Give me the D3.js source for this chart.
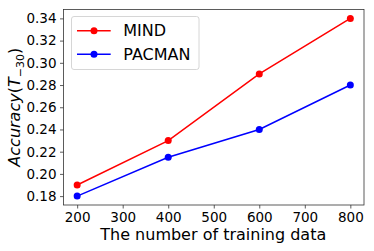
<!DOCTYPE html>
<html><head><meta charset="utf-8">
<script src="https://cdn.jsdelivr.net/npm/d3@7"></script>
<style>body{margin:0;background:#fff}svg{display:block}text{font-family:"DejaVu Sans",sans-serif}</style>
</head><body><svg id="c" width="374" height="251"></svg>
<script>
const xValues = [200, 400, 600, 800];
const mindValues = [0.19, 0.23, 0.29, 0.34];
const pacmanValues = [0.18, 0.215, 0.24, 0.28];
const seriesNames = ["MIND", "PACMAN"];
const seriesColors = ["#ff0000", "#0000ff"];
const xTicks = [200, 300, 400, 500, 600, 700, 800];
const yTicks = [0.18, 0.20, 0.22, 0.24, 0.26, 0.28, 0.30, 0.32, 0.34];

const svg = d3.select("#c");
const L = 63.5, R = 364, T = 9.5, B = 205;
const x = d3.scaleLinear().domain([170, 830]).range([L, R]);
const y = d3.scaleLinear().domain([0.172, 0.348]).range([B, T]);

const xa = svg.append("g").attr("transform", `translate(0,${B})`)
  .call(d3.axisBottom(x).tickValues(xTicks).tickSize(3.5).tickPadding(3.5).tickFormat(d3.format("d")));
const ya = svg.append("g").attr("transform", `translate(${L},0)`)
  .call(d3.axisLeft(y).tickValues(yTicks).tickSize(3.5).tickPadding(3.5).tickFormat(d3.format(".2f")));
[xa, ya].forEach(a => {
  a.select(".domain").remove();
  a.selectAll("line").attr("stroke", "#333").attr("stroke-width", 0.8);
  a.selectAll("text").attr("fill", "#000").style("font-size", "13.5px").style("font-family", "DejaVu Sans");
});
svg.append("rect").attr("x", L).attr("y", T).attr("width", R - L).attr("height", B - T)
  .attr("fill", "none").attr("stroke", "#333").attr("stroke-width", 0.8);

const data = [mindValues, pacmanValues];
const line = d3.line().x((d, i) => x(xValues[i])).y(d => y(d));
data.forEach((vals, k) => {
  svg.append("path").datum(vals).attr("d", line).attr("fill", "none")
    .attr("stroke", seriesColors[k]).attr("stroke-width", 1.5);
  svg.selectAll(null).data(vals).enter().append("circle")
    .attr("cx", (d, i) => x(xValues[i])).attr("cy", d => y(d)).attr("r", 3.5)
    .attr("fill", seriesColors[k]);
});

// legend
const lg = svg.append("g");
lg.append("rect").attr("x", 71.5).attr("y", 16.5).attr("width", 127.5).attr("height", 53)
  .attr("rx", 2.5).attr("fill", "#fff").attr("fill-opacity", 0.8).attr("stroke", "#ccc").attr("stroke-width", 0.8);
seriesNames.forEach((n, k) => {
  const yy = 30.7 + k * 23.5;
  lg.append("line").attr("x1", 77).attr("x2", 110.7).attr("y1", yy).attr("y2", yy)
    .attr("stroke", seriesColors[k]).attr("stroke-width", 1.5);
  lg.append("circle").attr("cx", 94).attr("cy", yy).attr("r", 3.5).attr("fill", seriesColors[k]);
  lg.append("text").attr("x", 123.3).attr("y", yy).attr("dy", "0.36em").style("font-size", "16px").text(n);
});

// axis titles
svg.append("text").attr("x", (L + R) / 2 - 0.5).attr("y", 240).attr("text-anchor", "middle")
  .style("font-size", "16px").text("The number of training data");
const yl = svg.append("text").attr("transform", `translate(20,${(T + B) / 2}) rotate(-90)`)
  .attr("text-anchor", "middle").style("font-size", "16px");
yl.append("tspan").style("font-style", "italic").text("Accuracy");
yl.append("tspan").text("(");
yl.append("tspan").style("font-style", "italic").text("T");
yl.append("tspan").attr("dy", 4).style("font-size", "11px").text("−30");
yl.append("tspan").attr("dy", -4).text(")");
</script></body></html>
